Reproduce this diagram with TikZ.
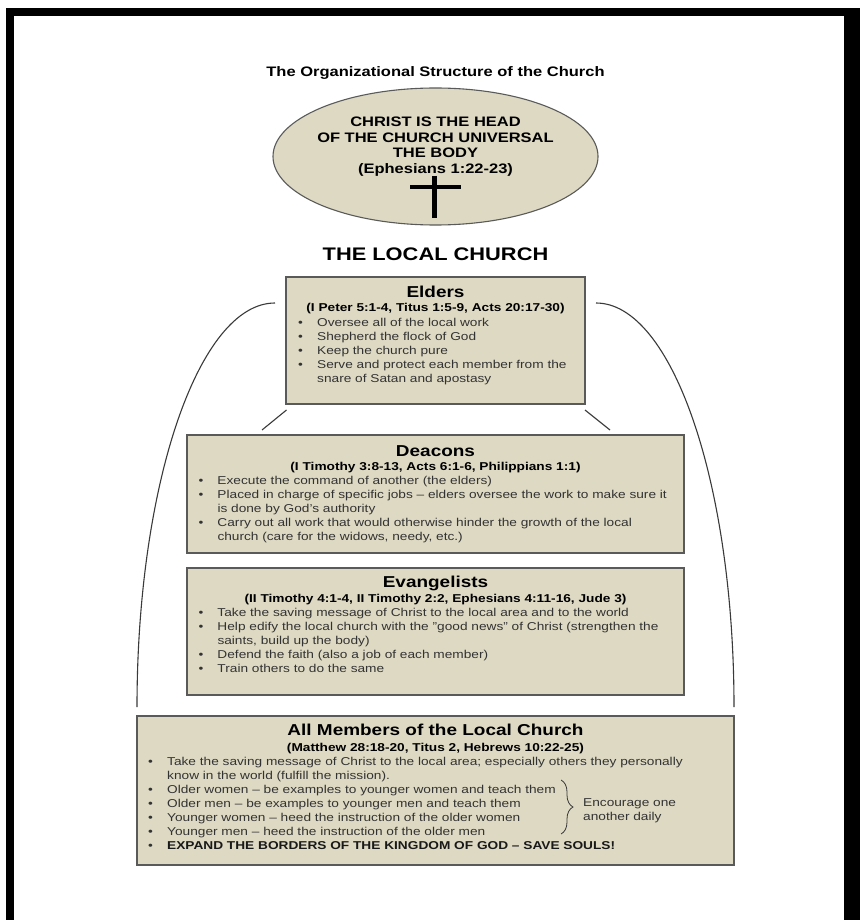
\documentclass[tikz,border=0pt]{standalone}
\usepackage{fontspec}
\setmainfont{Liberation Sans}[FakeStretch=1.2]
\usetikzlibrary{shapes.geometric,decorations.pathreplacing}
\definecolor{boxfill}{HTML}{DDD9C3}
\definecolor{boxline}{HTML}{5A5A5A}
\definecolor{bodytext}{HTML}{333333}
\definecolor{linkline}{HTML}{3A3A3A}
\newcommand{\itm}[1]{\hangindent=19pt\hangafter=1\noindent\makebox[19pt][l]{\textbullet}#1\par}
\begin{document}
\begin{tikzpicture}[x=1pt,y=-1pt,
  box/.style={draw=boxline, line width=1.3pt, fill=boxfill, inner sep=0pt},
  headtext/.style={anchor=base, inner sep=0pt, font=\bfseries\fontsize{15.8}{18}\selectfont, text=black},
  reftext/.style={anchor=base, inner sep=0pt, font=\bfseries\fontsize{11.4}{14}\selectfont, text=black},
  listtext/.style={anchor=base west, inner sep=0pt, text width=600pt, align=left, font=\fontsize{11.4}{14}\selectfont, text=bodytext},
  link/.style={draw=linkline, line width=1.1pt}
]
\useasboundingbox (0,0) rectangle (860,920);
\fill[white] (0,0) rectangle (860,920);
% frame
\fill[black] (5.5,8) rectangle (14,920);
\fill[black] (844,8) rectangle (860,920);
\fill[black] (5.5,8) rectangle (860,16);

% title
\node[anchor=base, inner sep=0pt, font=\bfseries\fontsize{13.75}{16}\selectfont] (title) at (435.5,76.7) {The Organizational Structure of the Church};

% head ellipse
\node[ellipse, draw=boxline, line width=1.1pt, fill=boxfill, minimum width=325pt, minimum height=137pt, inner sep=0pt] (head) at (435.5,156.5) {};
\node[anchor=base, inner sep=0pt, text width=320pt, align=center, font=\bfseries\fontsize{13.75}{15.6}\selectfont] (headtxt) at (435.5,126.5)
  {CHRIST IS THE HEAD\\OF THE CHURCH UNIVERSAL\\THE BODY\\(Ephesians 1:22-23)};
\draw[line width=5.5pt] (434.5,176) -- (434.5,218.3);
\draw[line width=4.5pt] (410,187.2) -- (461,187.2);

\node[anchor=base, inner sep=0pt, font=\bfseries\fontsize{18.2}{20}\selectfont] (local) at (435.5,260) {THE LOCAL CHURCH};

% boxes
\node[box, minimum width=299pt, minimum height=127pt] (elders) at (435.5,340.5) {};
\node[box, minimum width=497pt, minimum height=118pt] (deacons) at (435.5,494) {};
\node[box, minimum width=497pt, minimum height=127pt] (evang) at (435.5,631.5) {};
\node[box, minimum width=597pt, minimum height=149pt] (members) at (435.5,790.5) {};

% connectors
\coordinate (la) at (275,303);
\coordinate (lb) at (137,707);
\coordinate (ra) at (596,303);
\coordinate (rb) at (734,707);
\draw[link] (la) .. controls (198.8,303) and (137,483.9) .. (lb);
\draw[link] (ra) .. controls (672.2,303) and (734,483.9) .. (rb);
\coordinate (dla) at (286.5,410);
\coordinate (dlb) at (262,430);
\coordinate (dra) at (585,410);
\coordinate (drb) at (610,430);
\draw[link] (dla) -- (dlb);
\draw[link] (dra) -- (drb);

% Elders
\node[headtext] (eldh) at (435.5,297.3) {Elders};
\node[reftext] (eldr) at (435.5,311.7) {(I Peter 5:1-4, Titus 1:5-9, Acts 20:17-30)};
\node[listtext] (eldl) at (298,326.3) {%
\itm{Oversee all of the local work}%
\itm{Shepherd the flock of God}%
\itm{Keep the church pure}%
\itm{Serve and protect each member from the\newline snare of Satan and apostasy}};

% Deacons
\node[headtext] (deah) at (435.5,456) {Deacons};
\node[reftext] (dear) at (435.5,470.7) {(I Timothy 3:8-13, Acts 6:1-6, Philippians 1:1)};
\node[listtext] (deal) at (198.3,484.7) {%
\itm{Execute the command of another (the elders)}%
\itm{Placed in charge of specific jobs – elders oversee the work to make sure it\newline is done by God’s authority}%
\itm{Carry out all work that would otherwise hinder the growth of the local\newline church (care for the widows, needy, etc.)}};

% Evangelists
\node[headtext] (evah) at (435.5,587.3) {Evangelists};
\node[reftext] (evar) at (435.5,602.7) {(II Timothy 4:1-4, II Timothy 2:2, Ephesians 4:11-16, Jude 3)};
\node[listtext] (eval) at (198.3,616.7) {%
\itm{Take the saving message of Christ to the local area and to the world}%
\itm{Help edify the local church with the "good news" of Christ (strengthen the\newline saints, build up the body)}%
\itm{Defend the faith (also a job of each member)}%
\itm{Train others to do the same}};

% All members
\node[headtext] (memh) at (435.5,735.7) {All Members of the Local Church};
\node[reftext] (memr) at (435.5,751) {(Matthew 28:18-20, Titus 2, Hebrews 10:22-25)};
\node[listtext] (meml) at (148,765.3) {%
\itm{Take the saving message of Christ to the local area; especially others they personally\newline know in the world (fulfill the mission).}%
\itm{Older women – be examples to younger women and teach them}%
\itm{Older men – be examples to younger men and teach them}%
\itm{Younger women – heed the instruction of the older women}%
\itm{Younger men – heed the instruction of the older men}%
\itm{{\bfseries\color{black!90}EXPAND THE BORDERS OF THE KINGDOM OF GOD – SAVE SOULS!}}};

\draw[draw=linkline, line width=0.8pt, decorate, decoration={brace, amplitude=12pt}] (561,780) -- (561,834);
\node[listtext, text width=120pt] (enc) at (583,806.7) {Encourage one\newline another daily};
\end{tikzpicture}
\end{document}
